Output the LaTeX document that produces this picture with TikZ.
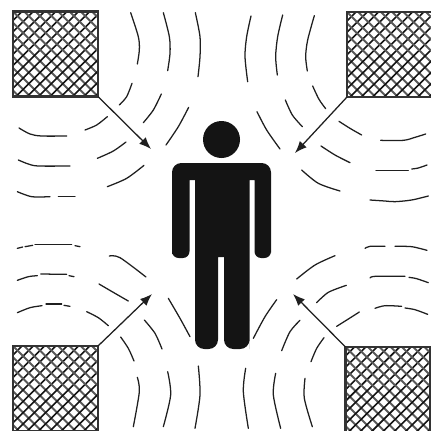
\documentclass[tikz,border=0pt]{standalone}
\usetikzlibrary{arrows.meta}
\begin{document}
\begin{tikzpicture}[x=0.75pt,y=-0.75pt,
  ink/.style={color=black!88},
  wave/.style={ink,line width=0.95pt,line cap=round},
  pointer/.style={-{Latex[length=9pt,width=7pt]},ink,line width=0.95pt},
  figure/.style={fill=black!92,draw=none},
  hatched/.style={draw=black!80,line width=1.7pt,fill=white,inner sep=0pt,outer sep=0pt,
    minimum width=#1*0.75pt,minimum height=#1*0.75pt,
    path picture={
      \begin{scope}[shift={(path picture bounding box.center)}]
        \foreach \i in {-12,...,12}{
          \draw[black!65,line width=1.45pt] (\i*11.3-70,-70) -- (\i*11.3+70,70);
          \draw[black!92,line width=1.2pt] (\i*11.3+3-70,70) -- (\i*11.3+3+70,-70);
        }
      \end{scope}}}]
\useasboundingbox (0,0) rectangle (431,430);
% sources
\node[hatched=85] (tl) at (55.5,54) {};
\node[hatched=85] (tr) at (389.5,54.5) {};
\node[hatched=85] (bl) at (55.5,388.5) {};
\node[hatched=85] (br) at (388,389.5) {};
% person
\fill[figure] (221.5,139.5) circle (18.5);
\fill[figure] (172,258) [rounded corners=7pt] -- (172,163) -- (271,163) -- (271,258) [sharp corners] -- (271,248) [rounded corners=5pt] -- (271,258) -- (254.5,258) [sharp corners] -- (254.5,180) -- (249.5,180) -- (249.5,349) [rounded corners=7pt] -- (249.5,349) -- (224,349) [sharp corners] -- (224,257) -- (218,257) [rounded corners=7pt] -- (218,349) -- (195,349) [sharp corners] -- (195,180) -- (189.5,180) [rounded corners=5pt] -- (189.5,258) -- (172,258) -- cycle;
% target points
\coordinate (ptl) at (151,149);
\coordinate (ptr) at (295,153);
\coordinate (pbl) at (152,294);
\coordinate (pbr) at (293,294);
\draw[pointer] (tl.south east) -- (ptl);
\draw[pointer] (tr.south west) -- (ptr);
\draw[pointer] (bl.north east) -- (pbl);
\draw[pointer] (br.north west) -- (pbr);
% waves, top left
\begin{scope}[scale=1/3]
\foreach \c in {
 {(392,38)(415,110)(418,150)(412,192)},
 {(490,38)(508,110)(510,160)(503,212)},
 {(586,38)(600,110)(600,170)(594,230)},
 {(396,250)(380,290)(358,315)},
 {(484,282)(460,330)(430,368)},
 {(566,322)(535,380)(498,435)},
 {(322,350)(290,375)(255,390)},
 {(378,426)(340,453)(292,475)},
 {(432,496)(380,535)(322,560)},
 {(57,384)(90,402)(125,408)(200,408)},
 {(55,480)(85,492)(115,498)(210,498)},
 {(52,575)(95,590)(150,590)},
 {(175,590)(225,590)}}
 {\draw[wave] plot[smooth] coordinates \c;}
\end{scope}
% waves, top right
\begin{scope}[shift={(215,0)},scale=1/3]
\foreach \c in {
 {(108,48)(95,110)(90,170)(98,245)},
 {(203,45)(188,110)(182,170)(187,225)},
 {(298,47)(278,120)(272,170)(277,213)},
 {(293,258)(312,298)(332,326)},
 {(211,300)(232,345)(262,380)},
 {(126,335)(155,390)(195,447)},
 {(372,364)(405,385)(440,405)},
 {(318,438)(360,465)(405,488)},
 {(260,510)(310,550)(375,573)},
 {(497,421)(565,421)(600,412)(632,402)},
 {(483,511)(580,511)},
 {(590,507)(610,504)(636,495)},
 {(465,600)(510,603)(540,605)(590,600)(640,588)}}
 {\draw[wave] plot[smooth] coordinates \c;}
\end{scope}
% waves, bottom left
\begin{scope}[shift={(0,215)},scale=1/3]
\foreach \c in {
 {(52,100)(68,96)},
 {(75,95)(98,91)},
 {(105,88)(215,88)},
 {(225,92)(240,95)},
 {(52,196)(85,185)(112,182)},
 {(122,177)(200,178)},
 {(207,182)(222,185)},
 {(52,293)(90,278)(126,272)},
 {(138,267)(185,267)},
 {(192,271)(210,274)},
 {(328,123)(360,128)(438,186)},
 {(297,207)(345,235)(385,258)},
 {(260,290)(295,308)(325,332)},
 {(505,250)(540,310)(570,365)},
 {(433,315)(465,355)(486,402)},
 {(362,366)(385,400)(402,438)},
 {(412,487)(418,530)(400,635)},
 {(503,470)(512,540)(490,635)},
 {(595,453)(600,540)(585,640)}}
 {\draw[wave] plot[smooth] coordinates \c;}
\end{scope}
% waves, bottom right
\begin{scope}[shift={(215,215)},scale=1/3]
\foreach \c in {
 {(360,122)(300,150)(245,192)},
 {(394,211)(340,232)(305,263)},
 {(433,291)(400,312)(365,334)},
 {(185,254)(150,305)(115,370)},
 {(255,316)(225,350)(200,407)},
 {(327,368)(305,400)(288,440)},
 {(92,460)(85,530)(100,640)},
 {(182,475)(175,540)(197,640)},
 {(270,490)(268,550)(292,635)},
 {(450,100)(465,94)(510,94)},
 {(540,94)(590,95)(636,106)},
 {(465,189)(480,184)(570,184)},
 {(582,187)(605,191)(640,203)},
 {(480,280)(510,272)(560,274)},
 {(570,279)(600,284)(638,298)}}
 {\draw[wave] plot[smooth] coordinates \c;}
\end{scope}
\end{tikzpicture}
\end{document}
